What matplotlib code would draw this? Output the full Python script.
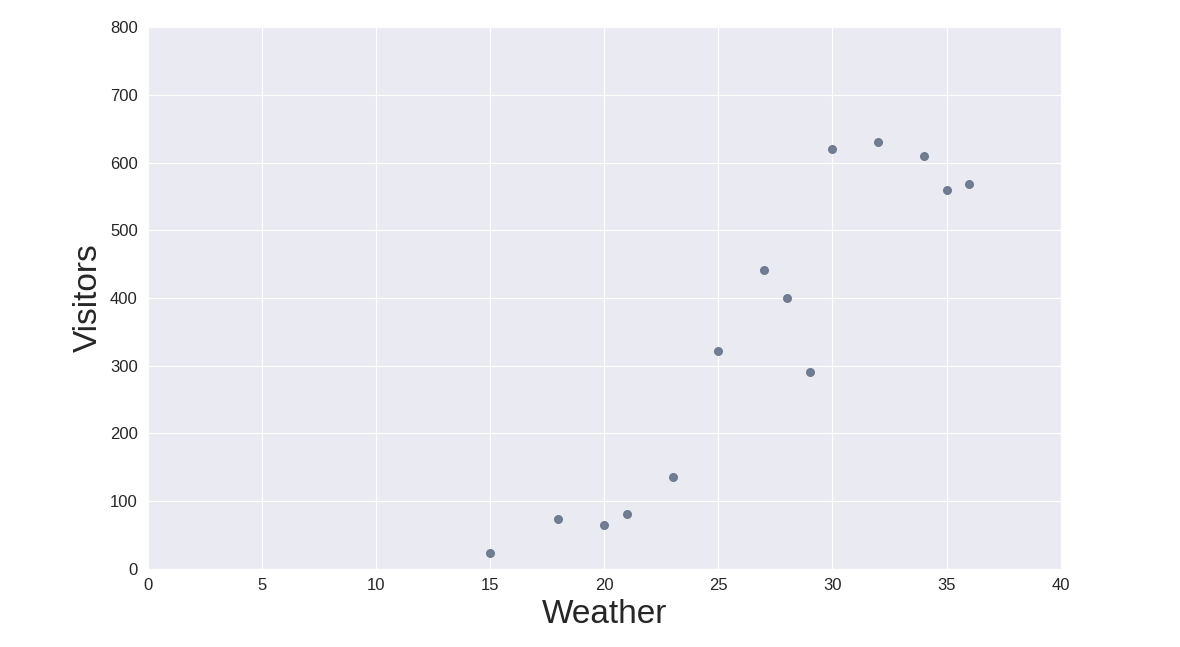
import matplotlib
matplotlib.use('Agg')
import matplotlib.pyplot as plt
import seaborn as sns

weather = [15, 18, 20, 21, 23, 25, 27, 28, 29, 30, 32, 34, 35, 36]
visitors = [23, 74, 65, 81, 135, 321, 441, 400, 290, 620, 630, 610, 560, 568]

sns.set_style('darkgrid')
plt.rcParams['font.family'] = ['Liberation Sans', 'DejaVu Sans']

fig = plt.figure(figsize=(11.8, 6.47), dpi=100)
ax = fig.add_axes([0.125, 0.121, 0.774, 0.837])
ax.scatter(weather, visitors, s=30, c='#6b778c', alpha=0.95)
ax.set_xlim(0, 40)
ax.set_ylim(0, 800)
ax.set_xlabel('Weather', fontsize=24)
ax.set_ylabel('Visitors', fontsize=24)
ax.tick_params(labelsize=12)
fig.savefig('out.png')
